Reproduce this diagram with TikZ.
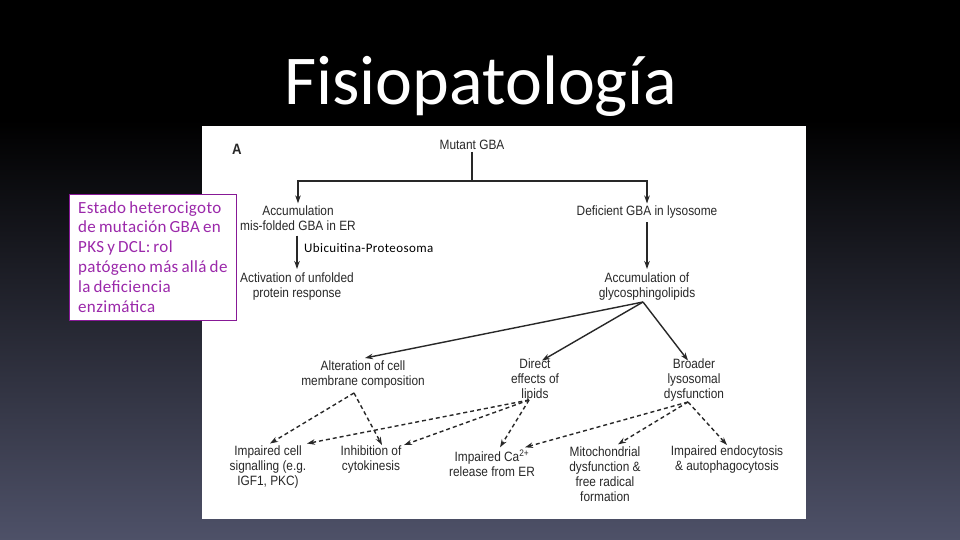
\documentclass[tikz,border=0pt]{standalone}
\usepackage{fontspec}
\setmainfont{Liberation Sans}
\newfontfamily\diagf[FakeStretch=0.88]{Liberation Sans}
\newfontfamily\corb{Carlito}
\newfontfamily\corbnote[LetterSpace=2,WordSpace=0.75]{Carlito}
\newfontfamily\corbubi[LetterSpace=3]{Carlito}
\usetikzlibrary{arrows.meta,calc}
\definecolor{bgbot}{RGB}{78,81,104}
\definecolor{notepurple}{RGB}{155,40,170}
\definecolor{noteborder}{RGB}{135,25,150}
\definecolor{ink}{RGB}{40,40,40}
\begin{document}
\begin{tikzpicture}[x=1pt,y=-1pt,
  lbl/.style={font=\diagf\fontsize{13.5}{15}\selectfont, text=ink, align=center, inner sep=2pt},
  arr/.style={draw=ink, line width=1.4pt, -{Stealth[length=8pt,width=5.5pt]}},
  darr/.style={arr, dash pattern=on 4pt off 3pt},
  plain/.style={draw=ink, line width=1.4pt},
  notebox/.style={draw=noteborder, line width=0.9pt, fill=white, minimum width=167pt, minimum height=126pt, inner sep=0pt},
  notetext/.style={align=left, inner sep=0pt, text=notepurple, font=\corbnote\fontsize{17}{19.8}\selectfont, anchor=north west},
  title/.style={text=white, font=\corb\fontsize{70}{80}\selectfont, inner sep=0pt, anchor=base}]
\useasboundingbox (0,0) rectangle (960,540);
\fill[black] (0,0) rectangle (960,540);
\shade[top color=black, bottom color=bgbot] (0,120) rectangle (960,540);
\fill[white] (202,126) rectangle (806,519);

\node[title] (ttl) at (481,105) {Fisiopatología};

\node[lbl, font=\diagf\bfseries\fontsize{15}{16}\selectfont] (A) at (237,149) {A};
\node[lbl] (mutant) at (472,145) {Mutant GBA};
\node[lbl] (accum) at (298,218) {Accumulation\\mis-folded GBA in ER};
\node[lbl] (defic) at (647,212) {Deficient GBA in lysosome};
\node[lbl] (activ) at (297,287) {Activation of unfolded\\protein response};
\node[lbl] (glyco) at (647,287) {Accumulation of\\glycosphingolipids};
\node[lbl] (alter) at (363,375) {Alteration of cell\\membrane composition};
\node[lbl] (direct) at (535,380) {Direct\\effects of\\lipids};
\node[lbl] (broader) at (694,380) {Broader\\lysosomal\\dysfunction};
\node[lbl] (signal) at (268,467) {Impaired cell\\signalling (e.g.\\IGF1, PKC)};
\node[lbl] (cyto) at (371,460) {Inhibition of\\cytokinesis};
\node[lbl] (calc) at (492,463) {Impaired Ca\textsuperscript{2+}\\release from ER};
\node[lbl] (mito) at (605,474) {Mitochondrial\\dysfunction \&\\free radical\\formation};
\node[lbl] (endo) at (727,460) {Impaired endocytosis\\\& autophagocytosis};

\node[font=\corbubi\fontsize{13}{14}\selectfont, anchor=west, inner sep=0pt] (ubi) at (304,248) {Ubicuitina-Proteosoma};

\coordinate (split) at (472,181);
\draw[plain] (mutant.south) -- (split);
\draw[arr] (split) -| (accum.north);
\draw[arr] (split) -| (defic.north);
\draw[arr, shorten <=3pt, shorten >=2pt] (accum.south -| ubi.west) ++(-7,0) coordinate (ua) (ua) -- (activ.north -| ua);
\draw[arr, shorten <=2pt, shorten >=2pt] (defic.south) -- (glyco.north);

\coordinate (g0) at (643,302);
\draw[arr] (g0) -- ($(alter.north)+(2,-1)$);
\draw[arr] (g0) -- ($(direct.north)+(7,4)$);
\draw[arr] (g0) -- ($(broader.north)+(-6,4)$);

\coordinate (a0) at (354,393);
\coordinate (d0) at (529,400);
\coordinate (b0) at (688,402);
\draw[darr] (a0) -- ($(signal.north)+(2,0)$);
\draw[darr] (a0) -- ($(cyto.north)+(11,1)$);
\draw[darr] (d0) -- ($(signal.north)+(39,0)$);
\draw[darr] (d0) -- ($(cyto.north)+(33,1)$);
\draw[darr] (d0) -- ($(calc.north)+(8,0)$);
\draw[darr] (b0) -- ($(calc.north)+(33,0)$);
\draw[darr] (b0) -- ($(mito.north)+(13,0)$);
\draw[darr] (b0) -- ($(endo.north)+(0,1)$);

\node[notebox] (note) at (152.5,257) {};
\node[notetext] (notetxt) at (78,201) {Estado heterocigoto\\de mutación GBA en\\PKS y DCL: rol\\patógeno más allá de\\la deficiencia\\enzimática};
\end{tikzpicture}
\end{document}
